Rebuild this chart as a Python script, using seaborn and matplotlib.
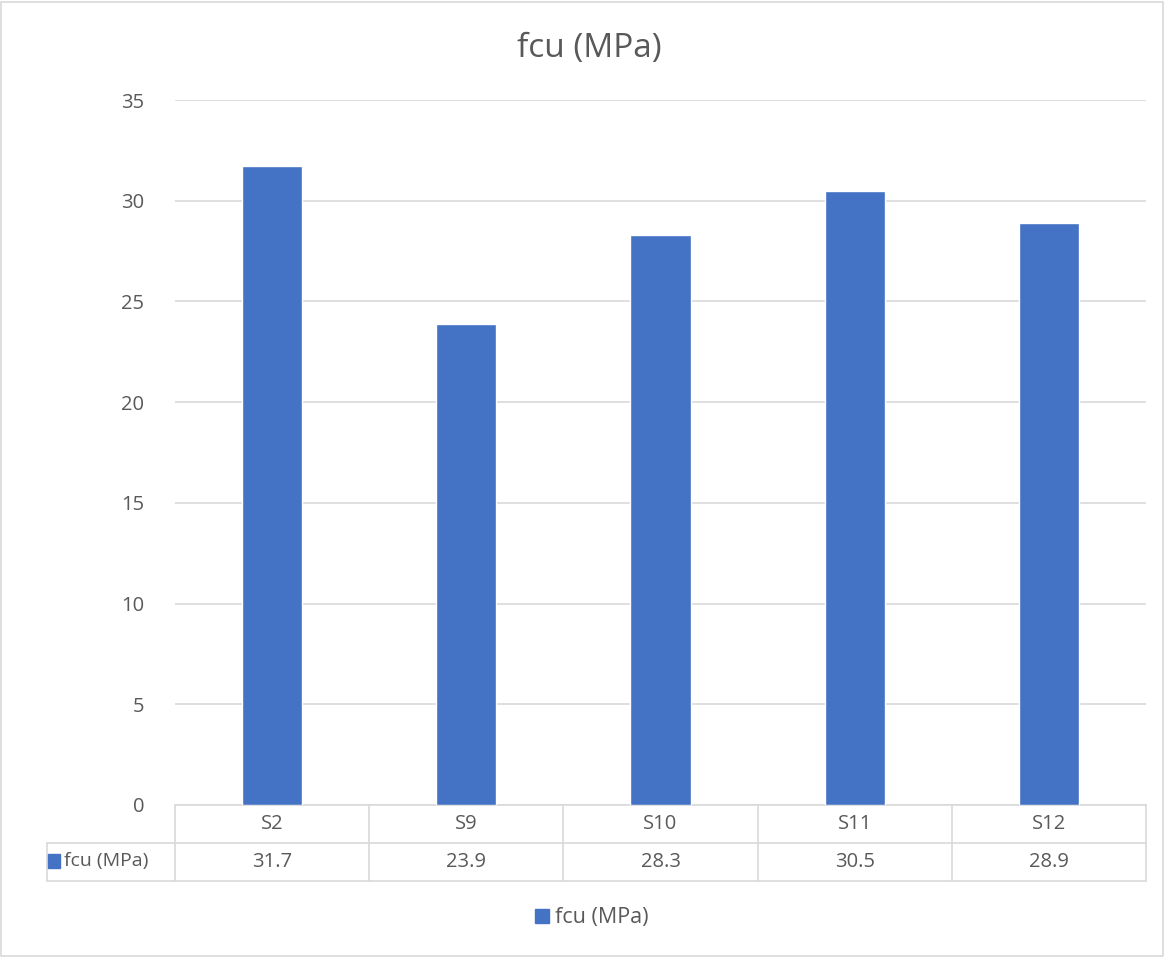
import matplotlib
matplotlib.use("Agg")
import matplotlib.pyplot as plt
import matplotlib.transforms as mtransforms
from matplotlib.patches import Rectangle, Patch
import pandas as pd
import seaborn as sns

# data
samples = ["S2", "S9", "S10", "S11", "S12"]
fcu = [31.7, 23.9, 28.3, 30.5, 28.9]
series_name = "fcu (MPa)"

bar_color = "#4472C4"
grid_color = "#D9D9D9"
text_color = "#595959"

sns.set_theme(style="white")
plt.rcParams["font.family"] = ["Open Sans", "DejaVu Sans"]

W, H = 1176, 957
fig = plt.figure(figsize=(W / 100, H / 100), dpi=100)
ax = fig.add_axes([175 / W, 1 - 805 / H, (1146 - 175) / W, (805 - 100) / H])

df = pd.DataFrame({"sample": samples, "fcu": fcu})
sns.barplot(data=df, x="sample", y="fcu", color=bar_color, saturation=1,
            width=0.31, ax=ax, zorder=3)

ax.set_ylim(0, 35)
ax.set_xlim(-0.5, len(samples) - 0.5)
ax.set_yticks(range(0, 36, 5))
ax.yaxis.grid(True, color=grid_color, linewidth=1.2, zorder=0)
ax.tick_params(axis="y", length=0, pad=22, labelsize=14.5, labelcolor=text_color)
ax.tick_params(axis="x", length=0, labelbottom=False)
ax.set_xlabel("")
ax.set_ylabel("")
for s in ["top", "right", "left"]:
    ax.spines[s].set_visible(False)
ax.spines["bottom"].set_color(grid_color)
ax.spines["bottom"].set_linewidth(1.2)

# title centred on the whole chart, not the axes
fig.text(589 / W, 1 - 48 / H, series_name, ha="center", va="center",
         fontsize=24, color=text_color)

# data table under the axis
row_h = 38 / (805 - 100)
trans = mtransforms.blended_transform_factory(ax.transData, ax.transAxes)
n = len(samples)
label_left = -0.5 - 128 / ((1146 - 175) / n)
lkw = dict(color=grid_color, linewidth=1.2, transform=trans, clip_on=False)
for i in range(n + 1):
    ax.plot([i - 0.5, i - 0.5], [0, -2 * row_h], **lkw)
ax.plot([label_left, label_left], [-row_h, -2 * row_h], **lkw)
for k in (1, 2):
    ax.plot([label_left, n - 0.5], [-k * row_h, -k * row_h], **lkw)
for i, (s, v) in enumerate(zip(samples, fcu)):
    ax.text(i, -0.5 * row_h, s, transform=trans, ha="center", va="center",
            fontsize=14.5, color=text_color)
    ax.text(i, -1.5 * row_h, f"{v:.1f}", transform=trans, ha="center",
            va="center", fontsize=14.5, color=text_color)

# row label with key
fig.patches.append(Rectangle((48 / W, 1 - 868 / H), 12 / W, 14 / H,
                             transform=fig.transFigure, color=bar_color))
fig.text(64 / W, 1 - 861 / H, series_name, ha="left", va="center",
         fontsize=14, color=text_color)

# legend at the bottom
fig.legend(handles=[Patch(color=bar_color, label=series_name)],
           loc="center", bbox_to_anchor=(592 / W, 1 - 918 / H), frameon=False,
           handlelength=0.65, handleheight=0.65, handletextpad=0.3,
           prop={"size": 15.5}, labelcolor=text_color)

# chart border
fig.patches.append(Rectangle((1 / W, 1 / H), 1162 / W, 954 / H,
                             transform=fig.transFigure, fill=False,
                             edgecolor=grid_color, linewidth=1.2))

fig.savefig("out.png", dpi=100, facecolor="white")
